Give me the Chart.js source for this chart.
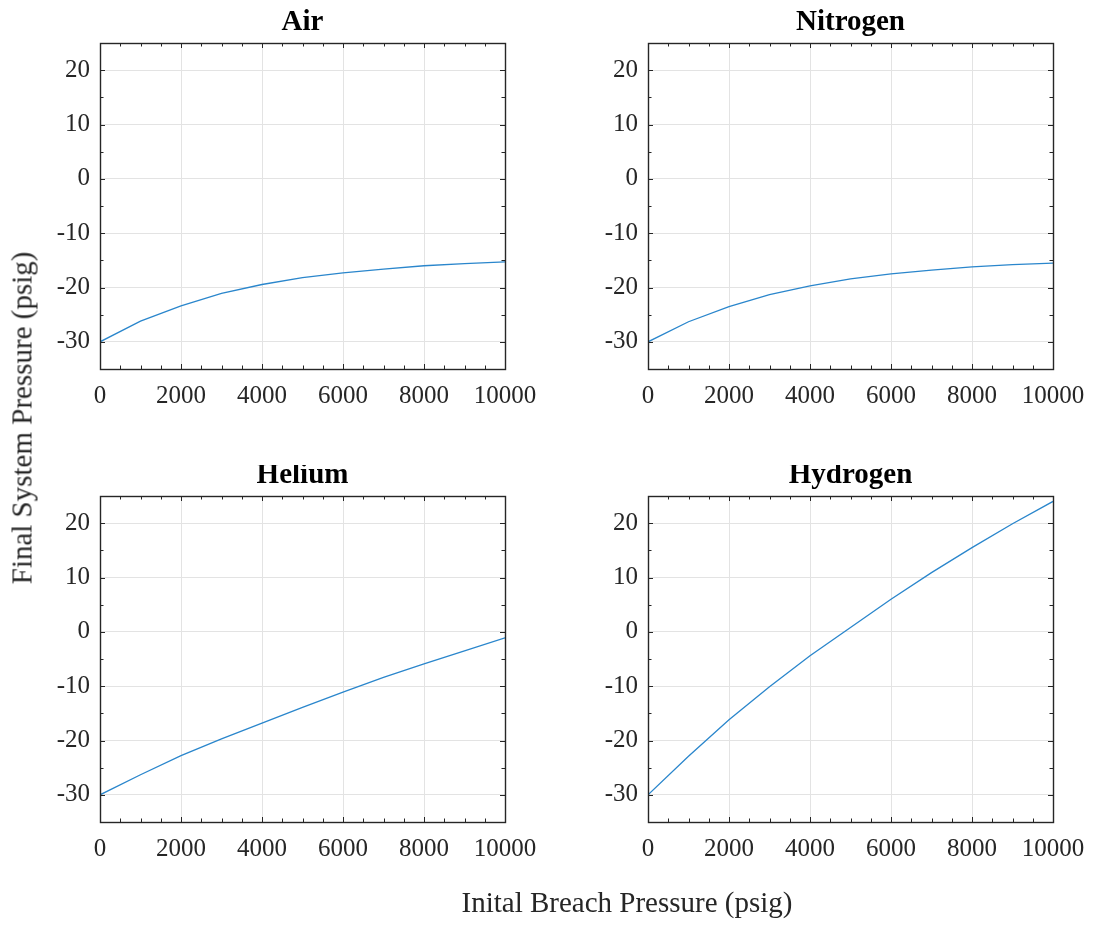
<!DOCTYPE html>
<html>
<head>
<meta charset="utf-8">
<script src="https://cdn.jsdelivr.net/npm/chart.js@4"></script>
<style>
  html, body { margin: 0; padding: 0; background: #fff; }
  #page { position: relative; width: 1094px; height: 930px; overflow: hidden; }
  canvas.panel { position: absolute; }
  .axis-label { position: absolute; font-family: "Liberation Serif", "Times New Roman", serif; font-size: 29px; color: #262626; white-space: nowrap; }
  #xlabel { left: 627px; top: 886px; transform: translateX(-50%); }
  #ylabel { left: 22px; top: 418px; transform: translate(-50%, -50%) rotate(-90deg); }
</style>
</head>
<body>
<div id="page">
  <canvas id="cAir" class="panel" width="547" height="465" style="left:0px;top:0px"></canvas>
  <canvas id="cNitrogen" class="panel" width="547" height="465" style="left:547px;top:0px"></canvas>
  <canvas id="cHelium" class="panel" width="547" height="465" style="left:0px;top:465px"></canvas>
  <canvas id="cHydrogen" class="panel" width="547" height="465" style="left:547px;top:465px"></canvas>
  <div id="xlabel" class="axis-label">Inital Breach Pressure (psig)</div>
  <div id="ylabel" class="axis-label">Final System Pressure (psig)</div>
</div>
<script>
// Initial breach pressure (psig)
const breachPressure = [0, 1000, 2000, 3000, 4000, 5000, 6000, 7000, 8000, 9000, 10000];

// Final system pressure (psig) for each gas
const airFinal      = [-30, -26.2, -23.4, -21.1, -19.45, -18.2, -17.3, -16.6, -16.0, -15.6, -15.3];
const nitrogenFinal = [-30, -26.3, -23.5, -21.3, -19.7, -18.4, -17.5, -16.8, -16.2, -15.8, -15.5];
const heliumFinal   = [-30, -26.3, -22.8, -19.7, -16.8, -13.9, -11.1, -8.4, -5.9, -3.5, -1.1];
const hydrogenFinal = [-30, -22.9, -16.2, -10.1, -4.4, 0.8, 6.0, 10.9, 15.5, 19.9, 24.0];

// Axis ticks
const xTicks = [0, 2000, 4000, 6000, 8000, 10000];
const yTicks = [-30, -20, -10, 0, 10, 20];
const xMinorStep = 500;
const yMinorStep = 5;
const xRange = [0, 10000];
const yRange = [-35, 25];

const serif = '"Liberation Serif", "Times New Roman", serif';
const inkColor = '#262626';
const gridColor = '#e3e3e3';
const lineColor = '#2a86cc';

// Box around the plot area with inward major/minor ticks on all four sides
const boxPlugin = {
  id: 'boxTicks',
  afterDatasetsDraw(chart) {
    const { ctx, chartArea: a, scales } = chart;
    const xs = scales.x, ys = scales.y;
    ctx.save();
    ctx.strokeStyle = inkColor;
    ctx.lineWidth = 1;
    ctx.beginPath();
    for (let v = xRange[0]; v <= xRange[1]; v += xMinorStep) {
      const px = Math.round(xs.getPixelForValue(v)) + 0.5;
      const len = (v % 2000 === 0) ? 5 : 3.5;
      ctx.moveTo(px, a.bottom); ctx.lineTo(px, a.bottom - len);
      ctx.moveTo(px, a.top); ctx.lineTo(px, a.top + len);
    }
    for (let v = yRange[0]; v <= yRange[1]; v += yMinorStep) {
      const py = Math.round(ys.getPixelForValue(v)) + 0.5;
      const len = (v % 10 === 0) ? 5 : 3.5;
      ctx.moveTo(a.left, py); ctx.lineTo(a.left + len, py);
      ctx.moveTo(a.right, py); ctx.lineTo(a.right - len, py);
    }
    ctx.stroke();
    ctx.lineWidth = 1.4;
    ctx.strokeRect(Math.round(a.left) + 0.5, Math.round(a.top) + 0.5,
                   Math.round(a.right - a.left), Math.round(a.bottom - a.top));
    ctx.restore();
  }
};

// Panel title centred over the plot area
const panelTitlePlugin = {
  id: 'panelTitle',
  afterDraw(chart, args, opts) {
    const { ctx, chartArea: a } = chart;
    ctx.save();
    ctx.font = 'bold 29px ' + serif;
    ctx.fillStyle = '#000';
    ctx.textAlign = 'center';
    ctx.textBaseline = 'alphabetic';
    ctx.fillText(opts.text, (a.left + a.right) / 2, a.top - 13);
    ctx.restore();
  }
};

function makePanel(id, title, values, padding) {
  return new Chart(document.getElementById(id), {
    type: 'line',
    data: {
      datasets: [{
        data: breachPressure.map((x, i) => ({ x, y: values[i] })),
        borderColor: lineColor,
        borderWidth: 1.3,
        pointRadius: 0,
        tension: 0,
        fill: false
      }]
    },
    plugins: [boxPlugin, panelTitlePlugin],
    options: {
      responsive: false,
      animation: false,
      devicePixelRatio: 1,
      layout: { padding },
      plugins: {
        legend: { display: false },
        tooltip: { enabled: false },
        title: { display: false },
        panelTitle: { text: title }
      },
      scales: {
        x: {
          type: 'linear',
          min: xRange[0],
          max: xRange[1],
          afterBuildTicks: s => { s.ticks = xTicks.map(v => ({ value: v })); },
          afterFit: s => { s.height = 61; s.paddingRight = 0; s.paddingLeft = 0; },
          grid: { color: gridColor, lineWidth: 1, drawTicks: false },
          border: { display: false },
          ticks: {
            padding: 12,
            color: inkColor,
            font: { family: serif, size: 25 },
            maxRotation: 0,
            callback: v => String(v)
          }
        },
        y: {
          type: 'linear',
          min: yRange[0],
          max: yRange[1],
          afterBuildTicks: s => { s.ticks = yTicks.map(v => ({ value: v })); },
          afterFit: s => { s.width = 100; },
          grid: { color: gridColor, lineWidth: 1, drawTicks: false },
          border: { display: false },
          ticks: {
            padding: 10,
            color: inkColor,
            font: { family: serif, size: 25 },
            callback: v => String(v)
          }
        }
      }
    }
  });
}

makePanel('cAir',      'Air',      airFinal,      { left: 0, top: 43, right: 42, bottom: 35 });
makePanel('cNitrogen', 'Nitrogen', nitrogenFinal, { left: 1, top: 43, right: 41, bottom: 35 });
makePanel('cHelium',   'Helium',   heliumFinal,   { left: 0, top: 31, right: 42, bottom: 47 });
makePanel('cHydrogen', 'Hydrogen', hydrogenFinal, { left: 1, top: 31, right: 41, bottom: 47 });
</script>
</body>
</html>
